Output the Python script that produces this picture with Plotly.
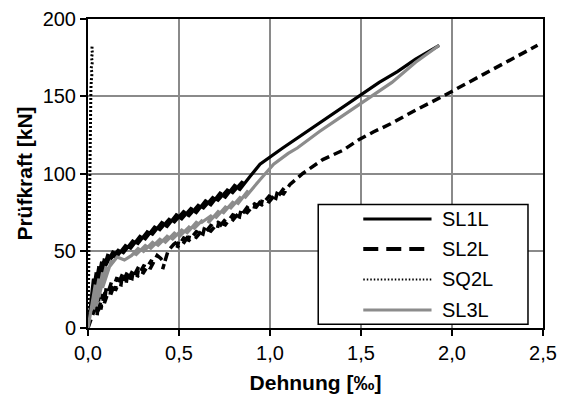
import plotly.graph_objects as go

# ---- data ----
sl1l_strain = [0, 0.015, 0.03, 0.02, 0.045, 0.03, 0.06, 0.045, 0.075, 0.06, 0.09, 0.075,
               0.11, 0.095, 0.14, 0.12,
               0.17, 0.15, 0.21, 0.19, 0.25, 0.23, 0.29, 0.27, 0.33, 0.31, 0.37, 0.35,
               0.41, 0.39, 0.45, 0.43, 0.49, 0.47, 0.53, 0.51, 0.57, 0.55, 0.61, 0.59,
               0.65, 0.63, 0.69, 0.67, 0.73, 0.71, 0.77, 0.75, 0.81, 0.79, 0.85, 0.83,
               0.89, 0.945, 1.07, 1.2, 1.3, 1.4, 1.5, 1.6, 1.7, 1.8, 1.93]
sl1l_force = [0, 18, 32, 16, 36, 20, 40, 24, 43, 28, 45, 34,
              48, 40, 50, 44,
              51, 45, 54, 48, 57, 51, 60, 54, 63, 57, 66, 60,
              69, 63, 71, 65, 74, 68, 76, 70, 78, 72, 80, 74,
              83, 77, 85, 79, 88, 82, 90, 84, 93, 87, 95, 89,
              98, 106, 116.5, 127, 135, 143, 151, 159, 166, 174, 183]

sl2l_strain = [0, 0.03, 0.06, 0.05, 0.08, 0.07, 0.10, 0.09, 0.13, 0.12, 0.16, 0.15,
               0.19, 0.18, 0.22, 0.21, 0.25, 0.24, 0.28, 0.27, 0.31, 0.30, 0.35, 0.34,
               0.38, 0.40, 0.42, 0.41, 0.44, 0.47, 0.50, 0.49, 0.53, 0.52, 0.56, 0.55,
               0.60, 0.59, 0.64, 0.63, 0.68, 0.67, 0.72, 0.71, 0.76, 0.75, 0.80, 0.79,
               0.84, 0.83, 0.88, 0.87, 0.92, 0.91, 0.96, 0.95, 1.00, 0.99, 1.04, 1.03,
               1.08, 1.07, 1.11, 1.18, 1.29, 1.40, 1.49, 1.57, 1.66, 1.80, 1.95, 2.17, 2.47]
sl2l_force = [0, 10, 20, 8, 22, 12, 26, 16, 30, 20, 33, 24,
              35, 27, 37, 29, 38, 31, 40, 33, 41, 35, 44, 38,
              47, 45, 42, 38, 50, 54, 57, 52, 59, 54, 61, 56,
              63, 58, 65, 60, 67, 62, 69, 64, 71, 66, 74, 69,
              76, 71, 79, 74, 81, 76, 84, 79, 86, 81, 88, 83,
              91, 86, 93, 100, 109, 115, 122, 127, 132, 141, 150, 164, 183]

sq2l_strain = [0, 0.002, 0.003, 0.004, 0.006, 0.007, 0.009, 0.011, 0.013, 0.016, 0.018,
               0.022, 0.017, 0.024, 0.019, 0.025, 0.021, 0.023]
sq2l_force = [0, 20, 40, 60, 80, 95, 110, 125, 145, 155, 160,
              165, 168, 172, 175, 178, 180, 183]

sl3l_strain = [0, 0.02, 0.04, 0.03, 0.06, 0.045, 0.08, 0.06, 0.10, 0.08, 0.13, 0.12,
               0.16, 0.20, 0.24,
               0.28, 0.26, 0.32, 0.30, 0.36, 0.34, 0.40, 0.38, 0.44, 0.42, 0.48, 0.46,
               0.52, 0.50, 0.56, 0.54, 0.60, 0.58, 0.63, 0.62,
               0.68, 0.66, 0.72, 0.70, 0.76, 0.74, 0.80, 0.78, 0.84, 0.82, 0.88, 0.86,
               0.91, 0.945, 1.02, 1.10, 1.15, 1.27, 1.37, 1.47, 1.57, 1.67, 1.8, 1.93]
sl3l_force = [0, 15, 28, 12, 32, 14, 36, 20, 40, 26, 44, 40,
              46, 44, 47,
              52, 47, 54, 49, 56, 51, 58, 53, 60, 55, 62, 57,
              64, 59, 66, 61, 69, 64, 70, 68,
              73, 68, 76, 71, 79, 74, 82, 77, 85, 80, 89, 84,
              91.5, 96, 106, 113, 116.5, 127, 135, 143, 151, 159, 172, 183]

series_names = ["SL1L", "SL2L", "SQ2L", "SL3L"]
x_ticks = [0, 0.5, 1.0, 1.5, 2.0, 2.5]
y_ticks = [0, 50, 100, 150, 200]

FONT = "Liberation Sans, Arial, sans-serif"
styles = {
    "SL1L": dict(color="black", width=3.2, dash="solid"),
    "SL2L": dict(color="black", width=3.5, dash="9px,5px"),
    "SQ2L": dict(color="black", width=3, dash="2px,2px"),
    "SL3L": dict(color="#8c8c8c", width=3.2, dash="solid"),
}
legend_styles = {
    "SL1L": dict(color="black", width=3.2, dash="solid"),
    "SL2L": dict(color="black", width=4, dash="15px,8px"),
    "SQ2L": dict(color="black", width=2, dash="1.5px,2px"),
    "SL3L": dict(color="#8c8c8c", width=3.2, dash="solid"),
}
data = {
    "SL1L": (sl1l_strain, sl1l_force),
    "SL2L": (sl2l_strain, sl2l_force),
    "SQ2L": (sq2l_strain, sq2l_force),
    "SL3L": (sl3l_strain, sl3l_force),
}

fig = go.Figure()
for name in series_names:
    xs, ys = data[name]
    fig.add_trace(go.Scatter(x=xs, y=ys, mode="lines", name=name,
                             line=styles[name], showlegend=False))

# custom legend box (Excel-like)
shapes = [dict(type="rect", xref="paper", yref="paper", x0=0.506, x1=0.967, y0=0.012, y1=0.400,
               line=dict(color="black", width=1.5), fillcolor="white", layer="above")]
annotations = []
legend_y = [0.3528, 0.2557, 0.157, 0.0583]
for name, ly in zip(series_names, legend_y):
    shapes.append(dict(type="line", xref="paper", yref="paper", x0=0.605, x1=0.755, y0=ly, y1=ly,
                       line=legend_styles[name], layer="above"))
    annotations.append(dict(xref="paper", yref="paper", x=0.774, y=ly, text=name, showarrow=False,
                            xanchor="left", yanchor="middle", font=dict(family=FONT, size=20, color="black")))

fig.update_layout(
    width=563, height=401,
    margin=dict(l=88, r=20, t=19, b=73, autoexpand=False),
    paper_bgcolor="white", plot_bgcolor="white",
    separators=",.",
    font=dict(family=FONT, size=20, color="black"),
    shapes=shapes, annotations=annotations,
    xaxis=dict(range=[0, 2.5], tickvals=x_ticks, tickformat=".1f", automargin=False,
               showgrid=True, gridcolor="#8a8a8a", gridwidth=2,
               showline=True, linecolor="black", linewidth=2, mirror=True,
               ticks="outside", ticklen=6, tickwidth=1.5, tickcolor="black",
               zeroline=False,
               title=dict(text="<b>Dehnung [‰]</b>", font=dict(size=21), standoff=12)),
    yaxis=dict(range=[0, 200], tickvals=y_ticks, automargin=False,
               showgrid=True, gridcolor="#8a8a8a", gridwidth=2,
               showline=True, linecolor="black", linewidth=2, mirror=True,
               ticks="outside", ticklen=6, tickwidth=1.5, tickcolor="black",
               zeroline=False,
               title=dict(text="<b>Prüfkraft [kN]</b>", font=dict(size=21), standoff=4)),
)

fig.write_html("out.html", config={"displayModeBar": False},
               post_script="document.body.style.margin='0px';")
